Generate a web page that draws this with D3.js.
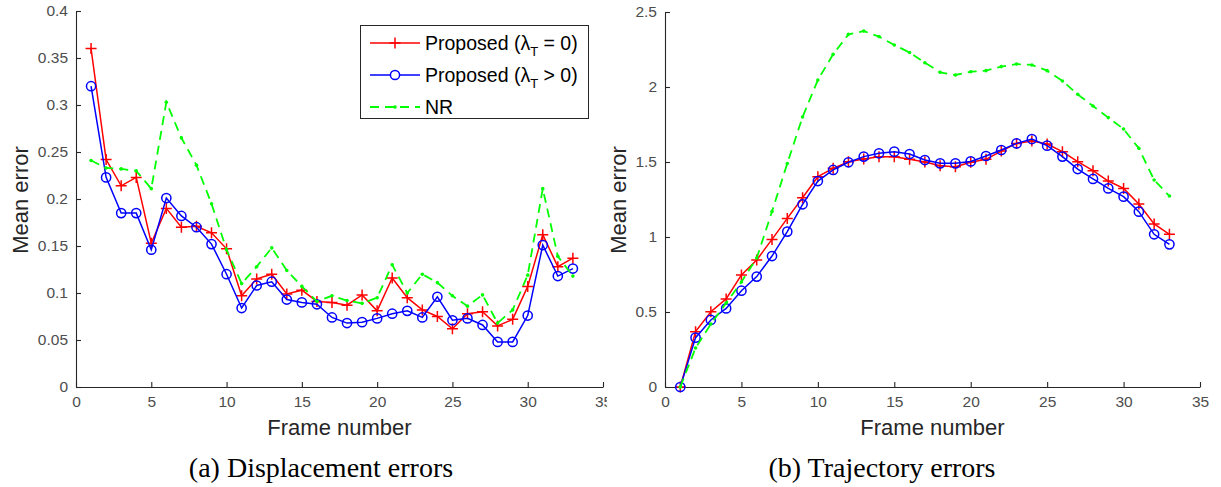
<!DOCTYPE html>
<html>
<head>
<meta charset="utf-8">
<script src="https://cdn.jsdelivr.net/npm/d3@7"></script>
<style>
  body { margin: 0; background: #fff; }
  svg { display: block; }
</style>
</head>
<body>
<div id="vis"></div>
<script>
// frame numbers shared by both panels
var frames = [1, 2, 3, 4, 5, 6, 7, 8, 9, 10, 11, 12, 13, 14, 15, 16, 17,
    18, 19, 20, 21, 22, 23, 24, 25, 26, 27, 28, 29, 30, 31, 32, 33];

// (a) displacement errors
var dispProposed0 = [0.360, 0.242, 0.214, 0.223, 0.153, 0.190, 0.170, 0.171, 0.164, 0.147, 0.097,
    0.115, 0.120, 0.099, 0.103, 0.091, 0.090, 0.087, 0.098, 0.081, 0.116, 0.095,
    0.082, 0.075, 0.062, 0.078, 0.080, 0.065, 0.072, 0.107, 0.162, 0.128, 0.137];
var dispProposedPos = [0.320, 0.223, 0.185, 0.185, 0.146, 0.201, 0.182, 0.170, 0.152, 0.120, 0.084,
    0.108, 0.112, 0.093, 0.090, 0.088, 0.074, 0.068, 0.069, 0.073, 0.078, 0.081,
    0.074, 0.096, 0.071, 0.073, 0.066, 0.048, 0.048, 0.076, 0.151, 0.118, 0.126];
var dispNR = [0.241, 0.233, 0.232, 0.230, 0.211, 0.303, 0.265, 0.236, 0.195, 0.146, 0.110,
    0.128, 0.148, 0.124, 0.107, 0.091, 0.097, 0.092, 0.089, 0.095, 0.130, 0.100,
    0.120, 0.111, 0.097, 0.086, 0.098, 0.068, 0.082, 0.119, 0.211, 0.139, 0.118];

// (b) trajectory errors
var trajProposed0 = [0, 0.369, 0.502, 0.587, 0.747, 0.847, 0.984, 1.124, 1.262, 1.402, 1.458,
    1.502, 1.520, 1.535, 1.535, 1.518, 1.500, 1.475, 1.469, 1.498, 1.518, 1.573,
    1.624, 1.640, 1.620, 1.569, 1.502, 1.442, 1.373, 1.324, 1.220, 1.087, 1.018];
var trajProposedPos = [0, 0.329, 0.447, 0.524, 0.642, 0.736, 0.873, 1.036, 1.218, 1.373, 1.447,
    1.498, 1.536, 1.558, 1.569, 1.553, 1.513, 1.491, 1.491, 1.504, 1.540, 1.580,
    1.624, 1.653, 1.609, 1.536, 1.453, 1.387, 1.324, 1.269, 1.169, 1.018, 0.951];
var trajNR = [0, 0.26, 0.42, 0.56, 0.70, 0.86, 1.17, 1.49, 1.80, 2.047, 2.218,
    2.351, 2.373, 2.336, 2.280, 2.230, 2.162, 2.098, 2.080, 2.102, 2.109, 2.136,
    2.153, 2.147, 2.109, 2.040, 1.951, 1.873, 1.796, 1.720, 1.591, 1.380, 1.273];

var xTicks = [0, 5, 10, 15, 20, 25, 30, 35];
var dispTicks = [0, 0.05, 0.1, 0.15, 0.2, 0.25, 0.3, 0.35, 0.4];
var trajTicks = [0, 0.5, 1, 1.5, 2, 2.5];

var seriesNames = ['Proposed (λ', 'Proposed (λ', 'NR'];
var seriesTails = [' = 0)', ' > 0)', ''];

var width = 1221;
var height = 487;
var axisColor = '#262626';
var tickColor = '#4d4d4d';
var sans = 'Liberation Sans, Arial, Helvetica, sans-serif';

var svg = d3.select('#vis').append('svg')
    .attr('width', width)
    .attr('height', height);

svg.append('defs').append('clipPath')
    .attr('id', 'leftClip')
    .append('rect')
    .attr('x', 0).attr('y', 0).attr('width', 607).attr('height', height);

function drawPanel(g, opts) {
    var x = d3.scaleLinear().domain([0, 35]).range([opts.x0, opts.x1]);
    var y = d3.scaleLinear().domain(opts.yDomain).range([387, opts.yTop]);

    // axes, MATLAB style: ticks pointing inward, box off
    var xAxis = g.append('g')
        .attr('transform', 'translate(0,' + y(0) + ')')
        .call(d3.axisBottom(x).tickValues(xTicks).tickSizeInner(-5).tickSizeOuter(0).tickPadding(9));
    var yAxis = g.append('g')
        .attr('transform', 'translate(' + x(0) + ',0)')
        .call(d3.axisLeft(y).tickValues(opts.yTicks).tickSizeInner(-5).tickSizeOuter(0).tickPadding(8)
            .tickFormat(function (d) { return String(+d.toFixed(2)); }));

    [xAxis, yAxis].forEach(function (a) {
        a.select('.domain').attr('stroke', axisColor).attr('stroke-width', 1.1);
        a.selectAll('.tick line').attr('stroke', axisColor).attr('stroke-width', 1.1);
        a.selectAll('.tick text')
            .attr('fill', tickColor)
            .style('font-family', sans)
            .style('font-size', '15.5px');
    });
    xAxis.selectAll('.tick text').attr('dy', '0.71em');

    var line = d3.line()
        .x(function (d) { return x(d[0]); })
        .y(function (d) { return y(d[1]); });

    function pts(vals) {
        return frames.map(function (f, i) { return [f, vals[i]]; });
    }

    var red = pts(opts.red);
    var blue = pts(opts.blue);
    var green = pts(opts.green);

    g.append('path').datum(red)
        .attr('d', line).attr('fill', 'none')
        .attr('stroke', '#ff0000').attr('stroke-width', 1.5);
    g.selectAll('.plus').data(red).enter().append('path')
        .attr('class', 'plus')
        .attr('d', function (d) {
            var cx = x(d[0]), cy = y(d[1]), s = 5.5;
            return 'M' + (cx - s) + ',' + cy + 'H' + (cx + s) + 'M' + cx + ',' + (cy - s) + 'V' + (cy + s);
        })
        .attr('stroke', '#ff0000').attr('stroke-width', 1.5);

    g.append('path').datum(blue)
        .attr('d', line).attr('fill', 'none')
        .attr('stroke', '#0000ff').attr('stroke-width', 1.5);
    g.selectAll('.circ').data(blue).enter().append('circle')
        .attr('class', 'circ')
        .attr('cx', function (d) { return x(d[0]); })
        .attr('cy', function (d) { return y(d[1]); })
        .attr('r', 4.6)
        .attr('fill', 'none')
        .attr('stroke', '#0000ff').attr('stroke-width', 1.5);

    g.append('path').datum(green)
        .attr('d', line).attr('fill', 'none')
        .attr('stroke', '#00ff00').attr('stroke-width', 1.8)
        .attr('stroke-dasharray', '9,6');
    g.selectAll('.dot').data(green).enter().append('circle')
        .attr('class', 'dot')
        .attr('cx', function (d) { return x(d[0]); })
        .attr('cy', function (d) { return y(d[1]); })
        .attr('r', 1.8)
        .attr('fill', '#00ff00');

    // axis titles
    g.append('text')
        .attr('x', (opts.x0 + opts.x1) / 2)
        .attr('y', 435)
        .attr('text-anchor', 'middle')
        .attr('fill', axisColor)
        .style('font-family', sans)
        .style('font-size', '22px')
        .text('Frame number');
    g.append('text')
        .attr('transform', 'translate(' + opts.yLabelX + ',200) rotate(-90)')
        .attr('text-anchor', 'middle')
        .attr('fill', axisColor)
        .style('font-family', sans)
        .style('font-size', '22px')
        .text('Mean error');

    return {x: x, y: y};
}

var left = svg.append('g').attr('clip-path', 'url(#leftClip)');
drawPanel(left, {
    x0: 76, x1: 603, yTop: 11, yDomain: [0, 0.4], yTicks: dispTicks,
    red: dispProposed0, blue: dispProposedPos, green: dispNR, yLabelX: 28
});

var right = svg.append('g');
drawPanel(right, {
    x0: 665, x1: 1200, yTop: 12, yDomain: [0, 2.5], yTicks: trajTicks,
    red: trajProposed0, blue: trajProposedPos, green: trajNR, yLabelX: 626
});

// legend on panel (a)
var legend = svg.append('g');
legend.append('rect')
    .attr('x', 360.5).attr('y', 25.5).attr('width', 228).attr('height', 93)
    .attr('fill', '#fff').attr('stroke', axisColor).attr('stroke-width', 1);

var legendRows = [
    {color: '#ff0000', mark: 'plus', dash: null},
    {color: '#0000ff', mark: 'circ', dash: null},
    {color: '#00ff00', mark: 'dot', dash: '9,6'}
];
legendRows.forEach(function (r, i) {
    var cy = 43 + i * 32;
    var ln = legend.append('line')
        .attr('x1', 370).attr('x2', 420).attr('y1', cy).attr('y2', cy)
        .attr('stroke', r.color).attr('stroke-width', r.dash ? 1.8 : 1.5);
    if (r.dash) ln.attr('stroke-dasharray', r.dash);
    if (r.mark === 'plus') {
        legend.append('path')
            .attr('d', 'M' + 389.5 + ',' + cy + 'H' + 400.5 + 'M395,' + (cy - 5.5) + 'V' + (cy + 5.5))
            .attr('stroke', r.color).attr('stroke-width', 1.5);
    } else if (r.mark === 'circ') {
        legend.append('circle').attr('cx', 395).attr('cy', cy).attr('r', 4.6)
            .attr('fill', '#fff').attr('stroke', r.color).attr('stroke-width', 1.5);
    } else {
        legend.append('circle').attr('cx', 395).attr('cy', cy).attr('r', 1.8).attr('fill', r.color);
    }
    var t = legend.append('text')
        .attr('x', 425).attr('y', cy + 6.5)
        .attr('fill', '#000')
        .style('font-family', sans)
        .style('font-size', '19.5px')
        .text(seriesNames[i]);
    if (seriesTails[i]) {
        t.append('tspan').attr('dy', 6).style('font-size', '13px').text('T');
        t.append('tspan').attr('dy', -6).text(seriesTails[i]);
    }
});

// sub-figure captions
svg.append('text')
    .attr('x', 321).attr('y', 477)
    .attr('text-anchor', 'middle')
    .attr('fill', '#000')
    .style('font-family', 'Liberation Serif, Times New Roman, serif')
    .style('font-size', '28px')
    .text('(a) Displacement errors');
svg.append('text')
    .attr('x', 882).attr('y', 477)
    .attr('text-anchor', 'middle')
    .attr('fill', '#000')
    .style('font-family', 'Liberation Serif, Times New Roman, serif')
    .style('font-size', '28px')
    .text('(b) Trajectory errors');
</script>
</body>
</html>
